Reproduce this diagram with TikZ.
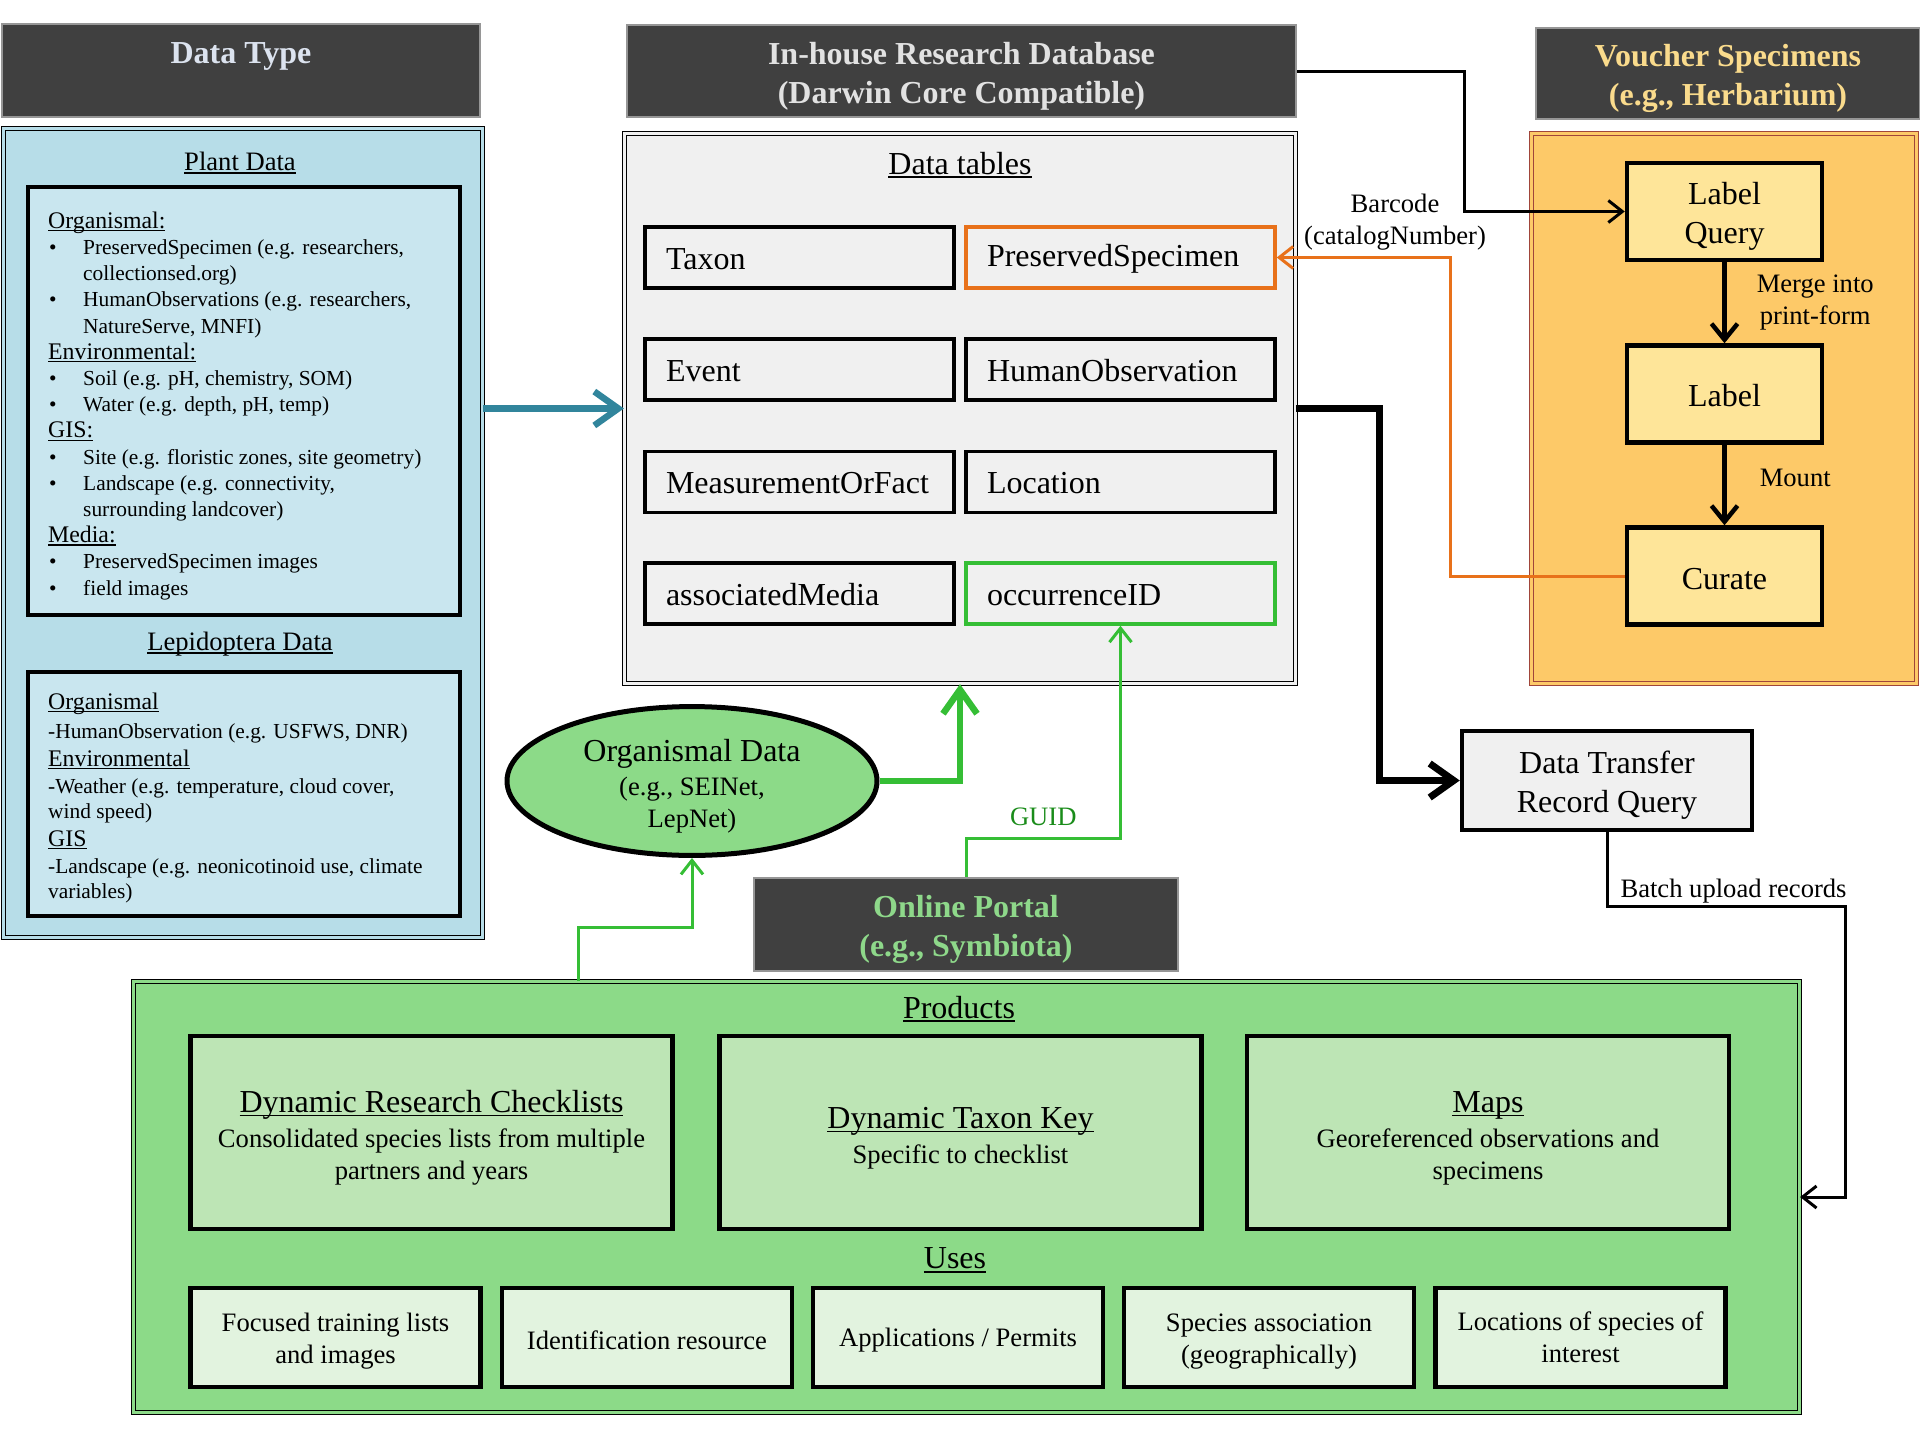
\documentclass[tikz,border=0pt]{standalone}
\usepackage{fontspec}
\setmainfont{Liberation Serif}
\usetikzlibrary{arrows.meta,shapes.geometric}

\definecolor{hdrgray}{HTML}{404040}
\definecolor{hdrblue}{HTML}{DCE3EF}
\definecolor{hdrwhite}{HTML}{E2E2E2}
\definecolor{hdrgold}{HTML}{FADB8C}
\definecolor{hdrgreen}{HTML}{8ED88A}
\definecolor{aqua}{HTML}{B7DDE8}
\definecolor{aqualight}{HTML}{C9E6EF}
\definecolor{tablegray}{HTML}{F0F0F0}
\definecolor{gold}{HTML}{FDC968}
\definecolor{goldlight}{HTML}{FEE599}
\definecolor{darkred}{HTML}{A0453A}
\definecolor{leaf}{HTML}{8CDA88}
\definecolor{leaflight}{HTML}{BDE5B5}
\definecolor{leafpale}{HTML}{E2F3DF}
\definecolor{lineteal}{HTML}{31859C}
\definecolor{linegreen}{HTML}{35BE35}
\definecolor{lineorange}{HTML}{E8711A}
\definecolor{guidgreen}{HTML}{1A8C1A}

\newcommand{\fbig}{\fontsize{32}{39}\selectfont}
\newcommand{\fmid}{\fontsize{26.6}{32}\selectfont}
\newcommand{\fsub}{\fontsize{23.8}{26.2}\selectfont}
\newcommand{\fsmall}{\fontsize{21.4}{26.2}\selectfont}
\newcommand{\bul}{\makebox[35pt][l]{\hspace{1pt}\textbullet}}
\newcommand{\bulskip}{\hspace*{35pt}}
\newcommand{\tstrut}{\rule{0pt}{1em}}
\newlength{\ulwd}
\newcommand{\uln}[1]{\settowidth{\ulwd}{#1}\rlap{\rule[-0.13em]{\ulwd}{0.055em}}#1}

\tikzset{
  textdrop/.style={execute at begin node={\rule{0pt}{#1}}},
  header/.style={fill=hdrgray, draw=hdrgray!55, line width=2pt, inner sep=0pt, align=center, font=\fbig\bfseries},
  panel/.style={draw, double=#1, fill=#1, double distance=2.5pt, line width=1.2pt, inner sep=0pt},
  thickbox/.style={draw, line width=4.5pt, inner sep=0pt},
  tablecell/.style={draw, line width=3.5pt, fill=tablegray, minimum width=309pt, minimum height=61pt, inner sep=0pt, text width=267pt, align=left, font=\fbig, textdrop=0.75em},
  labelbox/.style={thickbox, fill=goldlight, minimum width=195pt, minimum height=97pt, align=center, font=\fbig},
  productbox/.style={thickbox, fill=leaflight, minimum width=482pt, minimum height=193pt, align=center, font=\fmid},
  usebox/.style={thickbox, fill=leafpale, minimum width=290pt, minimum height=99pt, align=center, font=\fmid},
  title/.style={inner sep=0pt},
  thinarrow/.style={line width=3pt, -{Straight Barb[length=14pt, width=22pt]}},
  midarrow/.style={line width=4.5pt, -{Straight Barb[length=16pt, width=26pt]}},
  fatarrow/.style={line width=6.5pt, -{Straight Barb[length=24pt, width=34pt]}}
}

\begin{document}
\begin{tikzpicture}[x=1pt, y=-1pt]
\useasboundingbox (0,0) rectangle (1920,1440);

% headers
\node[header, text=hdrblue, minimum width=478pt, minimum height=93pt] (typehdr) at (241,70.5) {\tstrut Data Type\\\phantom{(X)}};
\node[header, text=hdrwhite, minimum width=669pt, minimum height=92pt] (dbhdr) at (961.5,71) {\tstrut In-house Research Database\\(Darwin Core Compatible)};
\node[header, text=hdrgold, minimum width=384pt, minimum height=91pt] (voucherhdr) at (1728,73.5) {\tstrut Voucher Specimens\\(e.g., Herbarium)};
\node[header, text=hdrgreen, minimum width=424pt, minimum height=93pt] (portal) at (966,924.5) {\tstrut Online Portal\\(e.g., Symbiota)};

% data type
\node[panel=aqua, minimum width=479pt, minimum height=809pt] (datatype) at (243,533) {};
\node[title, font=\fmid] (planttitle) at (240,163) {\uln{Plant Data}};
\node[thickbox, line width=4pt, fill=aqualight, minimum width=432pt, minimum height=428pt] (plantbox) at (244,401) {};
\node[anchor=north west, align=left, inner sep=0pt, font=\fsmall] (plantlist) at (48,211.5) {%
{\fsub\uln{Organismal:}}\\
\bul PreservedSpecimen (e.g. researchers,\\
\bulskip collectionsed.org)\\
\bul HumanObservations (e.g. researchers,\\
\bulskip NatureServe, MNFI)\\
{\fsub\uln{Environmental:}}\\
\bul Soil (e.g. pH, chemistry, SOM)\\
\bul Water (e.g. depth, pH, temp)\\
{\fsub\uln{GIS:}}\\
\bul Site (e.g. floristic zones, site geometry)\\
\bul Landscape (e.g. connectivity,\\
\bulskip surrounding landcover)\\
{\fsub\uln{Media:}}\\
\bul PreservedSpecimen images\\
\bul field images};
\node[title, font=\fmid] (lepititle) at (240,644) {\uln{Lepidoptera Data}};
\node[thickbox, line width=4pt, fill=aqualight, minimum width=432pt, minimum height=244pt] (lepibox) at (244,794) {};
\node[anchor=north west, align=left, inner sep=0pt, font=\fontsize{21.4}{25}\selectfont] (lepilist) at (48,692.5) {%
{\fsub\uln{Organismal}}\\[4pt]
-HumanObservation (e.g. USFWS, DNR)\\[3pt]
{\fsub\uln{Environmental}}\\[2pt]
-Weather (e.g. temperature, cloud cover,\\
wind speed)\\[3pt]
{\fsub\uln{GIS}}\\[2pt]
-Landscape (e.g. neonicotinoid use, climate\\
variables)};

% database tables
\node[panel=tablegray, minimum width=671pt, minimum height=550pt] (tables) at (960,408.5) {};
\node[title, font=\fbig] (tabletitle) at (960,165) {\uln{Data tables}};
\node[tablecell] (taxon) at (799.5,257.5) {Taxon};
\node[tablecell, draw=lineorange] (presspec) at (1120.5,257.5) {PreservedSpecimen};
\node[tablecell] (event) at (799.5,369.5) {Event};
\node[tablecell] (humanobs) at (1120.5,369.5) {HumanObservation};
\node[tablecell] (measure) at (799.5,482) {MeasurementOrFact};
\node[tablecell] (location) at (1120.5,482) {Location};
\node[tablecell] (media) at (799.5,593.5) {associatedMedia};
\node[tablecell, draw=linegreen] (occid) at (1120.5,593.5) {occurrenceID};

% voucher specimens
\node[panel=gold, draw=darkred, minimum width=385pt, minimum height=550pt] (voucher) at (1724,408.5) {};
\node[labelbox] (labelquery) at (1724.5,211.5) {\tstrut Label\\Query};
\node[labelbox, textdrop=0.8em] (label) at (1724.5,394) {Label};
\node[labelbox, textdrop=0.85em] (curate) at (1724.5,576) {Curate};
\node[align=center, inner sep=0pt, font=\fmid] (barcode) at (1395,222) {Barcode\\(catalogNumber)};

% transfer and portal
\node[thickbox, fill=tablegray, minimum width=290pt, minimum height=99pt, align=center, font=\fbig] (transfer) at (1607,780.5) {\tstrut Data Transfer\\Record Query};
\node[ellipse, draw, line width=5pt, fill=leaf, minimum width=370pt, minimum height=136pt, inner sep=0pt, align=center, font=\fmid] (orgdata) at (692,781) {{\fbig\rule{0pt}{1.05em}Organismal Data}\\[2pt](e.g., SEINet,\\LepNet)};

% products and uses
\node[panel=leaf, minimum width=1666pt, minimum height=431pt] (products) at (966.5,1197) {};
\node[title, font=\fbig] (prodtitle) at (959,1009) {\uln{Products}};
\node[productbox] (checklists) at (431.5,1132.5) {{\fbig\tstrut\uln{Dynamic Research Checklists}}\\[3pt]Consolidated species lists from multiple\\partners and years};
\node[productbox] (taxonkey) at (960.5,1132.5) {{\fbig\tstrut\uln{Dynamic Taxon Key}}\\[3pt]Specific to checklist};
\node[productbox] (maps) at (1488,1132.5) {{\fbig\tstrut\uln{Maps}}\\[3pt]Georeferenced observations and\\specimens};
\node[title, font=\fbig] (usetitle) at (955,1260) {\uln{Uses}};
\node[usebox] (training) at (335.5,1337.5) {\tstrut Focused training lists\\and images};
\node[usebox, textdrop=0.9em] (ident) at (647,1337.5) {Identification resource};
\node[usebox, textdrop=0.9em] (permits) at (958,1337.5) {Applications / Permits};
\node[usebox] (assoc) at (1269,1337.5) {\tstrut Species association\\(geographically)};
\node[usebox] (locations) at (1580.5,1337.5) {Locations of species of\\interest};

% connectors
\draw[fatarrow, lineteal] (datatype.east |- tables.west) -- (tables.west);
\draw[thinarrow] (dbhdr.east) -- ++(167,0) |- (labelquery.west);
\draw[midarrow] (labelquery) -- (label) node[midway, anchor=west, xshift=30pt, align=center, inner sep=0pt, font=\fmid] (merge) {Merge into\\print-form};
\draw[midarrow] (label) -- (curate) node[midway, anchor=west, xshift=33pt, yshift=7.5pt, inner sep=0pt, font=\fmid] (mount) {Mount};
\draw[thinarrow, lineorange] (curate.west) -- ++(-174,0) |- (presspec.east);
\draw[fatarrow, line width=7pt] (tables.east) -- ++(83,0) |- (transfer.west);
\draw[thinarrow] (transfer.south) -- ++(0,74) node[anchor=south west, inner sep=0pt, xshift=12pt, yshift=2pt, font=\fmid] (batch) {Batch upload records} -- ++(238,0) |- (products.east);
\draw[fatarrow, linegreen] (orgdata.east) -| (tables.south);
\draw[thinarrow, linegreen] (portal.north) -- ++(0,-39) coordinate (guidbend) -- (guidbend -| occid.south) node[midway, above=11pt, inner sep=0pt, text=guidgreen, font=\fmid] (guid) {GUID} -- (occid.south);
\draw[thinarrow, linegreen] ([xshift=-388.5pt]products.north) -- ++(0,-53) -| (orgdata.south);
\end{tikzpicture}
\end{document}
